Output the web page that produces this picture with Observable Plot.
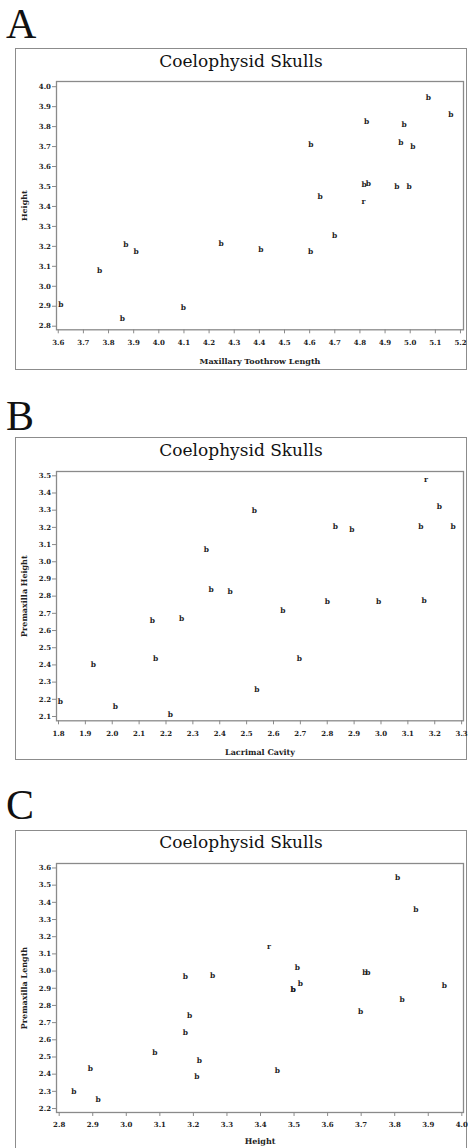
<!DOCTYPE html>
<html><head><meta charset="utf-8">
<script src="https://cdn.jsdelivr.net/npm/d3@7"></script>
<script src="https://cdn.jsdelivr.net/npm/@observablehq/plot@0.6"></script>
<style>
body{margin:0;background:#fff;}
#page{position:relative;width:468px;height:1148px;overflow:hidden;background:#fff;}
.letter{position:absolute;left:6px;font-family:"Liberation Serif",serif;font-size:42px;line-height:42px;color:#111;}
.box{position:absolute;left:15px;width:452px;border:1.5px solid #8c8c8c;box-sizing:border-box;}
.title{position:absolute;left:15px;width:452px;text-align:center;font-family:"DejaVu Serif",serif;font-size:17px;line-height:17px;color:#111;}
.chart{position:absolute;left:0;}
</style></head>
<body><div id="page"></div>
<script>
// ---- Panel A: Maxillary Toothrow Length vs Height ----
const aX = [5.072, 5.162, 4.827, 4.976, 4.605, 4.963, 5.011, 4.817, 4.834, 4.947, 4.996, 4.642, 4.814, 4.699, 4.248, 3.869, 3.910, 4.406, 4.604, 3.765, 3.610, 4.098, 3.855];
const aY = [3.947, 3.862, 3.826, 3.811, 3.709, 3.720, 3.699, 3.510, 3.517, 3.497, 3.497, 3.450, 3.426, 3.253, 3.216, 3.208, 3.173, 3.184, 3.174, 3.079, 2.909, 2.892, 2.840];
const aG = ["b","b","b","b","b","b","b","b","b","b","b","b","r","b","b","b","b","b","b","b","b","b","b"];
const aXTicks = [3.6, 3.7, 3.8, 3.9, 4.0, 4.1, 4.2, 4.3, 4.4, 4.5, 4.6, 4.7, 4.8, 4.9, 5.0, 5.1, 5.2];
const aYTicks = [2.8, 2.9, 3.0, 3.1, 3.2, 3.3, 3.4, 3.5, 3.6, 3.7, 3.8, 3.9, 4.0];

// ---- Panel B: Lacrimal Cavity vs Premaxilla Height ----
const bX = [3.167, 3.217, 2.529, 2.830, 2.892, 3.148, 3.268, 2.350, 2.368, 2.439, 2.800, 2.991, 3.160, 2.635, 2.149, 2.258, 2.161, 2.696, 1.930, 2.538, 1.807, 2.012, 2.216];
const bY = [3.478, 3.320, 3.296, 3.207, 3.186, 3.207, 3.203, 3.070, 2.841, 2.827, 2.769, 2.769, 2.773, 2.716, 2.660, 2.670, 2.439, 2.439, 2.400, 2.257, 2.189, 2.158, 2.110];
const bG = ["r","b","b","b","b","b","b","b","b","b","b","b","b","b","b","b","b","b","b","b","b","b","b"];
const bXTicks = [1.8, 1.9, 2.0, 2.1, 2.2, 2.3, 2.4, 2.5, 2.6, 2.7, 2.8, 2.9, 3.0, 3.1, 3.2, 3.3];
const bYTicks = [2.1, 2.2, 2.3, 2.4, 2.5, 2.6, 2.7, 2.8, 2.9, 3.0, 3.1, 3.2, 3.3, 3.4, 3.5];

// ---- Panel C: Height vs Premaxilla Length ----
const cX = [3.809, 3.863, 3.425, 3.510, 3.711, 3.720, 3.176, 3.257, 3.519, 3.497, 3.497, 3.948, 3.822, 3.698, 3.189, 3.176, 3.085, 3.218, 2.893, 3.450, 3.210, 2.844, 2.916];
const cY = [3.545, 3.360, 3.141, 3.021, 2.992, 2.992, 2.966, 2.976, 2.928, 2.895, 2.895, 2.917, 2.835, 2.762, 2.741, 2.642, 2.528, 2.479, 2.435, 2.421, 2.384, 2.299, 2.254];
const cG = ["b","b","r","b","b","b","b","b","b","b","b","b","b","b","b","b","b","b","b","b","b","b","b"];
const cXTicks = [2.8, 2.9, 3.0, 3.1, 3.2, 3.3, 3.4, 3.5, 3.6, 3.7, 3.8, 3.9, 4.0];
const cYTicks = [2.2, 2.3, 2.4, 2.5, 2.6, 2.7, 2.8, 2.9, 3.0, 3.1, 3.2, 3.3, 3.4, 3.5, 3.6];

const titles = ["Coelophysid Skulls", "Coelophysid Skulls", "Coelophysid Skulls"];
const letters = ["A", "B", "C"];
const xLabels = ["Maxillary Toothrow Length", "Lacrimal Cavity", "Height"];
const yLabels = ["Height", "Premaxilla Height", "Premaxilla Length"];

const panels = [
  {x: aX, y: aY, g: aG, xt: aXTicks, yt: aYTicks, xd: [3.593, 5.212], yd: [2.782, 4.026],
   letterTop: 2.8, boxTop: 48, boxH: 322, titleTop: 52.6, plotTop: 81, plotBottom: 329.3, svgBottom: 372, xlo: 34},
  {x: bX, y: bY, g: bG, xt: bXTicks, yt: bYTicks, xd: [1.7926, 3.307], yd: [2.075, 3.525],
   letterTop: 394.8, boxTop: 437, boxH: 323, titleTop: 442, plotTop: 470.7, plotBottom: 720, svgBottom: 762, xlo: 34},
  {x: cX, y: cY, g: cG, xt: cXTicks, yt: cYTicks, xd: [2.792, 4.005], yd: [2.177, 3.626],
   letterTop: 783.8, boxTop: 830, boxH: 330, titleTop: 834.4, plotTop: 863.3, plotBottom: 1112.3, svgBottom: 1148, xlo: 31.5}
];

const page = document.getElementById("page");
const FONT = "DejaVu Serif";

panels.forEach((p, k) => {
  const letter = document.createElement("div");
  letter.className = "letter"; letter.style.top = p.letterTop + "px"; letter.textContent = letters[k];
  page.appendChild(letter);

  const box = document.createElement("div");
  box.className = "box"; box.style.top = p.boxTop + "px"; box.style.height = p.boxH + "px";
  page.appendChild(box);

  const title = document.createElement("div");
  title.className = "title"; title.style.top = p.titleTop + "px"; title.textContent = titles[k];
  page.appendChild(title);

  const data = p.x.map((v, i) => ({x: v, y: p.y[i], g: p.g[i]}));
  const svgTop = p.plotTop - 8;
  const height = p.svgBottom - svgTop;
  const common = {stroke: "#8a8a8a", fill: "#222", fontFamily: FONT, fontWeight: "bold", labelArrow: "none"};
  const chart = Plot.plot({
    width: 468,
    height,
    marginLeft: 56,
    marginRight: 5,
    marginTop: 8,
    marginBottom: height - (p.plotBottom - svgTop),
    x: {domain: p.xd},
    y: {domain: p.yd},
    style: {background: "transparent", overflow: "visible", fontFamily: FONT, color: "#222"},
    marks: [
      Plot.frame({stroke: "#8a8a8a", strokeWidth: 1.3}),
      // tick marks + tick labels
      Plot.axisX({...common, ticks: p.xt, tickFormat: d3.format(".1f"), tickSize: 4, tickPadding: 6, fontSize: 7, label: null}),
      Plot.axisY({...common, ticks: p.yt, tickFormat: d3.format(".1f"), tickSize: 4, tickPadding: 1.5, fontSize: 7, label: null}),
      // axis titles
      Plot.axisX({...common, ticks: [], fontSize: 8, label: xLabels[k], labelAnchor: "center", labelOffset: p.xlo}),
      Plot.axisY({...common, ticks: [], fontSize: 8, label: yLabels[k], labelAnchor: "center", labelOffset: 35}),
      Plot.text(data, {x: "x", y: "y", text: "g", fontSize: 7.5, fontFamily: FONT, fontWeight: "bold", fill: "#222"})
    ]
  });
  chart.classList.add("chart");
  chart.style.top = svgTop + "px";
  chart.style.position = "absolute";
  page.appendChild(chart);
});
</script>
</body></html>
